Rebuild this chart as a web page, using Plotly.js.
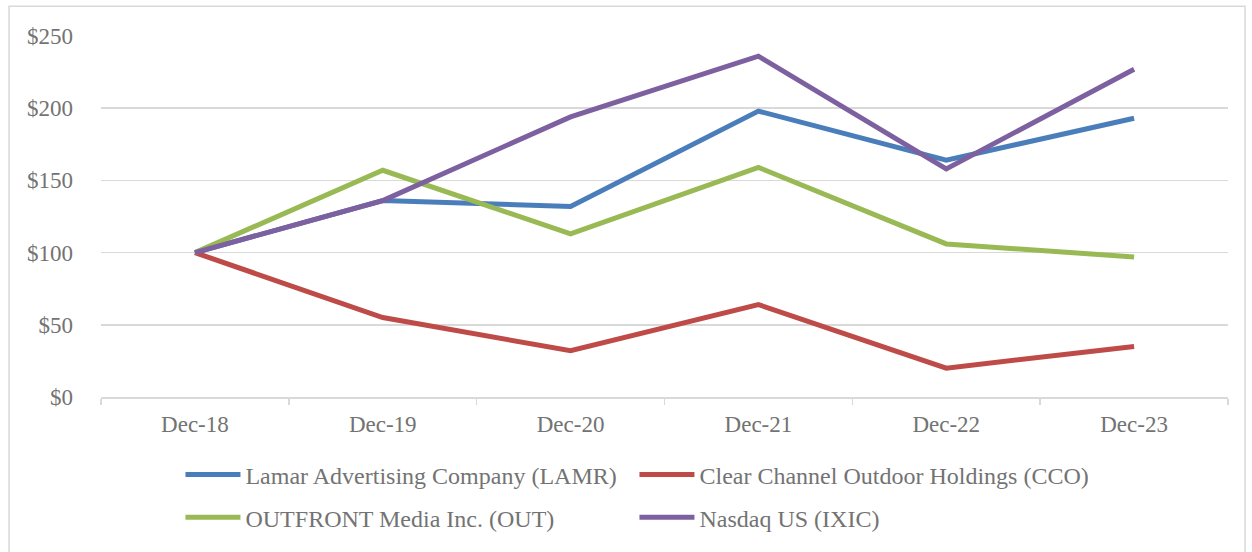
<!DOCTYPE html>
<html>
<head>
<meta charset="utf-8">
<script src="https://cdn.plot.ly/plotly-3.0.1.min.js"></script>
<style>html,body{margin:0;padding:0;background:#fff;}#chart{width:1252px;height:552px;}</style>
</head>
<body>
<div id="chart"></div>
<script>
const categories = ["Dec-18", "Dec-19", "Dec-20", "Dec-21", "Dec-22", "Dec-23"];
const lamr = [100, 136, 132, 198, 164, 193];
const cco = [100, 55, 32, 64, 20, 35];
const out = [100, 157, 113, 159, 106, 97];
const ixic = [100, 136, 194, 236, 158, 227];
const yTickVals = [0, 50, 100, 150, 200, 250];
const yTickText = ["$0", "$50", "$100", "$150", "$200", "$250"];

const FONT = "'Liberation Serif', 'DejaVu Serif', serif";
const GRAY = "#737373";

function tr(name, y, color, legend) {
  return {x: categories, y: y, name: name, type: "scatter", mode: "lines",
    line: {color: color, width: 5}, legend: legend};
}
const data = [
  tr("Lamar Advertising Company (LAMR)", lamr, "#4A7EBB", "legend"),
  tr("Clear Channel Outdoor Holdings (CCO)", cco, "#BE4B48", "legend"),
  tr("OUTFRONT Media Inc. (OUT)", out, "#98B954", "legend2"),
  tr("Nasdaq US (IXIC)", ixic, "#7D60A0", "legend2")
];

const legendCommon = {orientation: "h", xanchor: "left", yanchor: "middle",
  font: {family: FONT, size: 24, color: GRAY}, bgcolor: "rgba(0,0,0,0)",
  entrywidth: 384, entrywidthmode: "pixels", itemwidth: 55, traceorder: "normal"};

const layout = {
  width: 1252, height: 552,
  margin: {l: 101, r: 24, t: 36, b: 152},
  paper_bgcolor: "#ffffff", plot_bgcolor: "#ffffff",
  font: {family: FONT, size: 23, color: GRAY},
  xaxis: {type: "category", range: [-0.5, 5.5], showgrid: false, zeroline: false,
    showline: true, linecolor: "#d9d9d9", linewidth: 1.5,
    ticks: "outside", tickson: "boundaries", ticklen: 6, tickcolor: "#d9d9d9", tickwidth: 1.5,
    tickfont: {family: FONT, size: 23, color: GRAY}, ticklabelstandoff: 6},
  yaxis: {range: [0, 250], tickvals: yTickVals, ticktext: yTickText,
    showgrid: true, gridcolor: "#d9d9d9", gridwidth: 1.5, zeroline: false, showline: false,
    ticks: "", tickfont: {family: FONT, size: 23, color: GRAY}, ticklabelstandoff: 27},
  showlegend: true,
  legend: Object.assign({}, legendCommon, {x: 0.0705, y: -0.2157}),
  legend2: Object.assign({}, legendCommon, {x: 0.0705, y: -0.334}),
  shapes: [{type: "rect", xref: "paper", yref: "paper", x0: -0.0816, x1: 1.0151, y0: -0.45, y1: 1.0825,
    line: {color: "#d9d9d9", width: 1.5}, layer: "below"}]
};
Plotly.newPlot("chart", data, layout, {displayModeBar: false, staticPlot: true});
</script>
</body>
</html>
